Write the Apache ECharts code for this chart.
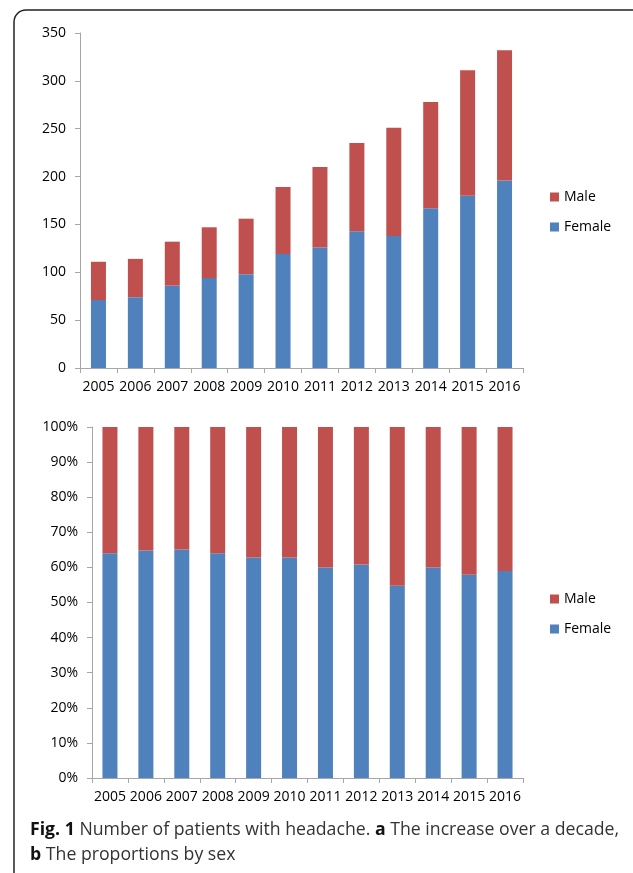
<!DOCTYPE html>
<html>
<head>
<meta charset="utf-8">
<script src="https://cdn.jsdelivr.net/npm/echarts@6/dist/echarts.min.js"></script>
<style>
html,body{margin:0;padding:0;background:#fff;}
#chart{width:633px;height:873px;}
</style>
</head>
<body>
<div id="chart"></div>
<script>
var years = ['2005','2006','2007','2008','2009','2010','2011','2012','2013','2014','2015','2016'];
var femaleCount = [71, 74, 86, 94, 98, 119, 126, 143, 138, 167, 180, 196];
var maleCount = [40, 40, 46, 53, 58, 70, 84, 92, 113, 111, 131, 136];
var femalePct = [64.0, 64.8, 65.1, 64.0, 62.8, 62.8, 60.0, 60.8, 54.8, 60.0, 57.9, 59.0];
var malePct = [36.0, 35.2, 34.9, 36.0, 37.2, 37.2, 40.0, 39.2, 45.2, 40.0, 42.1, 41.0];

var BLUE = '#4F81BD', RED = '#C0504D', AXIS = '#A6A6A6';
var FONT = 'Open Sans';

var chart = echarts.init(document.getElementById('chart'), null, {renderer: 'canvas'});

function xAx(gi) {
  return {
    type: 'category', gridIndex: gi, data: years,
    axisLine: {lineStyle: {color: AXIS, width: 1}},
    axisTick: {show: true, length: 5, lineStyle: {color: AXIS}},
    axisLabel: {color: '#000', fontFamily: FONT, fontSize: 14, margin: 12, interval: 0}
  };
}
function yAx(gi, max, interval, fmt) {
  return {
    type: 'value', gridIndex: gi, min: 0, max: max, interval: interval,
    axisLine: {show: true, lineStyle: {color: AXIS, width: 1}},
    axisTick: {show: true, length: 5, lineStyle: {color: AXIS}},
    splitLine: {show: false},
    axisLabel: {color: '#000', fontFamily: FONT, fontSize: 14, margin: 14, formatter: fmt}
  };
}
function legend(top, series) {
  return {
    left: 550, top: top, orient: 'vertical', itemGap: 16, padding: 0,
    itemWidth: 9, itemHeight: 9, icon: 'rect',
    data: series,
    textStyle: {color: '#000', fontFamily: FONT, fontSize: 14}
  };
}

var option = {
  animation: false,
  backgroundColor: '#fff',
  title: {
    left: 30, top: 817, padding: 0,
    text: '{b|Fig. 1} {n|Number of patients with headache.} {b|a} {n|The increase over a decade,}\n{b|b} {n|The proportions by sex}',
    textStyle: {
      fontFamily: FONT, fontSize: 17.7, lineHeight: 25, fontWeight: 'normal',
      rich: {
        b: {fontFamily: FONT, fontSize: 17.7, fontWeight: 'bold', color: '#111', lineHeight: 25},
        n: {fontFamily: FONT, fontSize: 17.7, fontWeight: 'normal', color: '#333', lineHeight: 25}
      }
    }
  },
  legend: [legend(190, ['Male', 'Female']), legend(592, ['Male', 'Female'])],
  grid: [
    {left: 80, right: 110, top: 33, height: 335},
    {left: 92, right: 110, top: 427, height: 351}
  ],
  xAxis: [xAx(0), xAx(1)],
  yAxis: [yAx(0, 350, 50, '{value}'), yAx(1, 100, 10, '{value}%')],
  series: [
    {name: 'Female', type: 'bar', stack: 'a', xAxisIndex: 0, yAxisIndex: 0, data: femaleCount, barWidth: 15, itemStyle: {color: BLUE}},
    {name: 'Male', type: 'bar', stack: 'a', xAxisIndex: 0, yAxisIndex: 0, data: maleCount, barWidth: 15, itemStyle: {color: RED}},
    {name: 'Female', type: 'bar', stack: 'b', xAxisIndex: 1, yAxisIndex: 1, data: femalePct, barWidth: 15, itemStyle: {color: BLUE}},
    {name: 'Male', type: 'bar', stack: 'b', xAxisIndex: 1, yAxisIndex: 1, data: malePct, barWidth: 15, itemStyle: {color: RED}}
  ],
  graphic: [
    {type: 'rect', shape: {x: 14, y: 10, width: 660, height: 900, r: 12}, silent: true,
     style: {fill: 'none', stroke: '#222', lineWidth: 1.5}, z: 100}
  ]
};
chart.setOption(option);
</script>
</body>
</html>
